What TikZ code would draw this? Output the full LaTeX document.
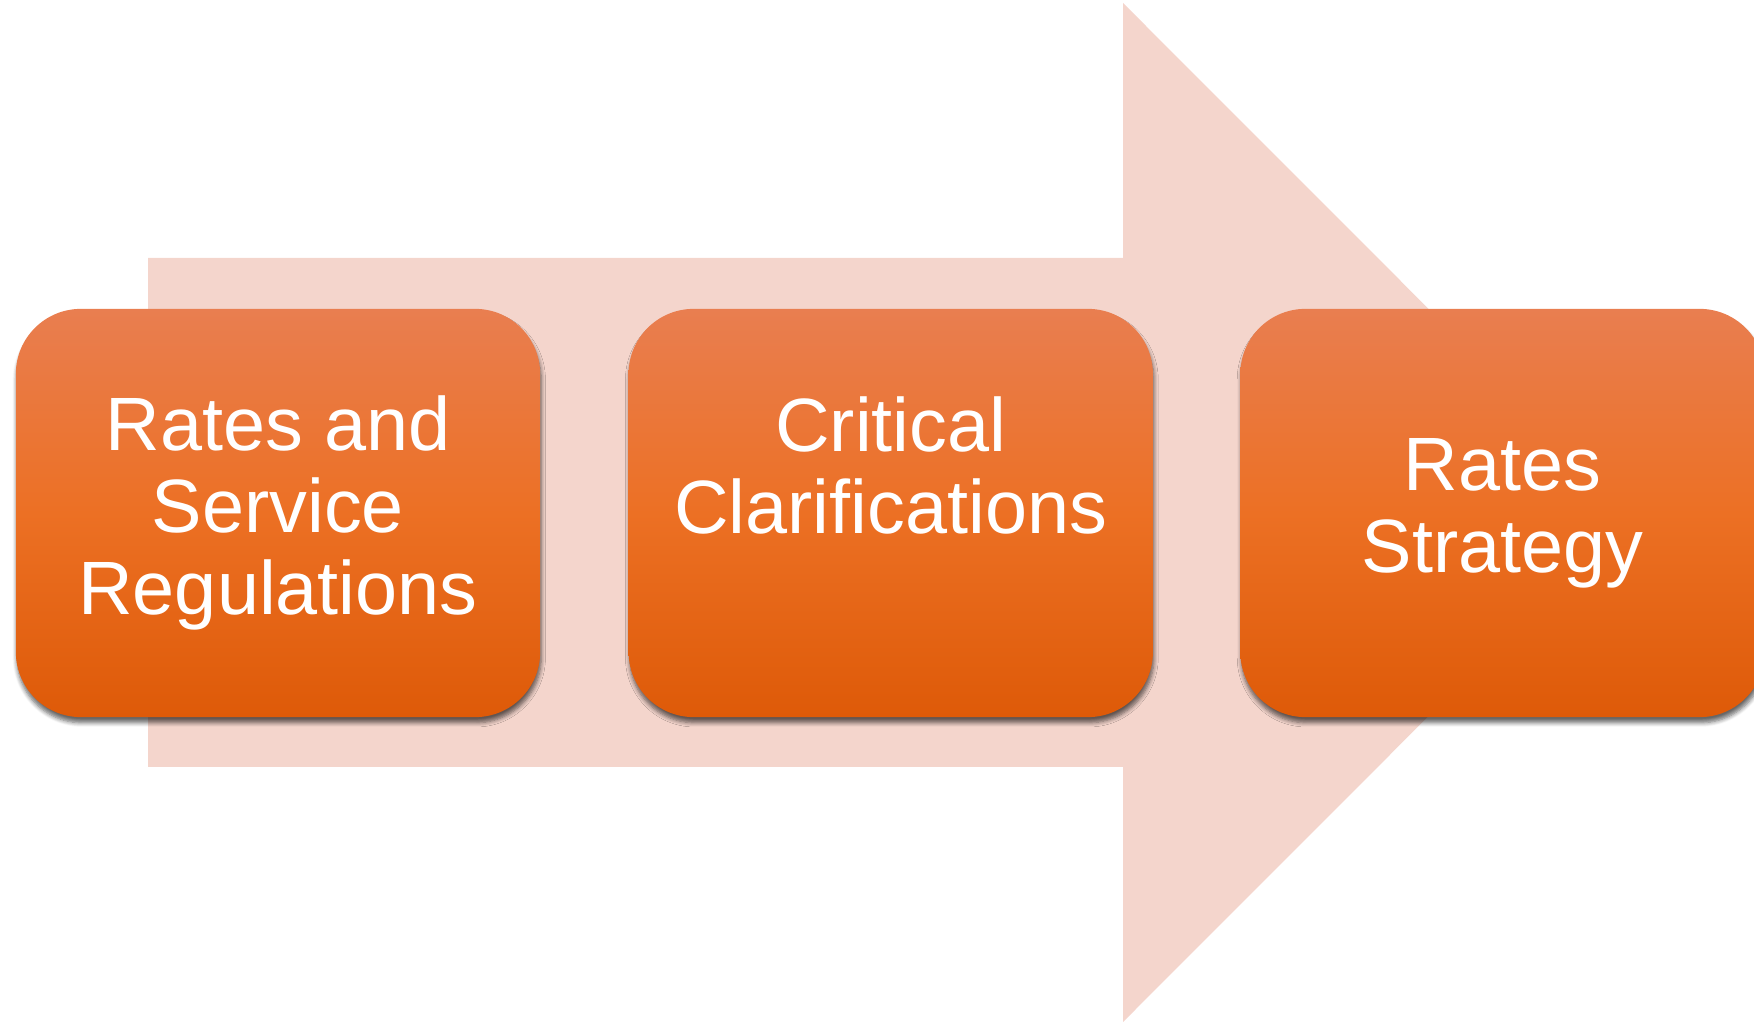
\documentclass[tikz,border=0pt]{standalone}
\usepackage{fontspec}
\setmainfont{Liberation Sans}
\usetikzlibrary{positioning}
\usetikzlibrary{shadows.blur}
\definecolor{arrowpink}{RGB}{244,213,204}
\definecolor{boxtop}{RGB}{233,126,80}
\definecolor{boxmid}{RGB}{236,112,36}
\definecolor{boxbot}{RGB}{222,90,8}

\begin{document}
\begin{tikzpicture}[x=0.01cm,y=-0.01cm,
    stepbox/.style={rounded corners=0.65cm, minimum width=5.24cm, minimum height=4.08cm,
      inner sep=0pt, top color=boxtop, bottom color=boxbot, middle color=boxmid,
      text=white, align=center, font=\fontsize{21.5}{23.3}\selectfont,
      blur shadow={shadow xshift=0.3pt, shadow yshift=-1.6pt, shadow blur radius=1.2pt,
        shadow blur steps=6, shadow opacity=60}}]
    \useasboundingbox (0,0) rectangle (1754,1022);
    \path[fill=arrowpink] (148,258) -- (1123,258) -- (1123,3) -- (1632,512.5)
      -- (1123,1022) -- (1123,767) -- (148,767) -- cycle;
    \node[stepbox] (rates) at (278,513) {Rates and\\Service\\Regulations};
    \node[stepbox, right=0.87cm of rates] (clarif) {Critical\\Clarifications\\\rule[-4pt]{0pt}{0pt}};
    \node[stepbox, right=0.86cm of clarif] (strategy) {Rates\\Strategy};
  \end{tikzpicture}
\end{document}
